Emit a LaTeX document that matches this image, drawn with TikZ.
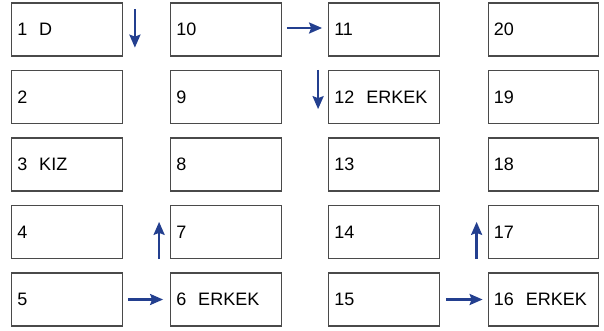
\documentclass[tikz,border=0pt]{standalone}
\usepackage{fontspec}
\setmainfont{Liberation Sans}
\usetikzlibrary{arrows.meta}
\definecolor{seatline}{HTML}{4A4A4A}
\definecolor{arrowblue}{HTML}{233F8F}

\begin{document}
\begin{tikzpicture}[
    x=1pt, y=1pt,
    every node/.style={draw=seatline, line width=1.3pt, minimum height=53pt,
      inner sep=5.5pt, text width=99.5pt, align=left,
      font=\fontsize{18}{21}\selectfont},
    move/.style={draw=arrowblue, line width=2.4pt, -{Stealth[length=13pt,width=11pt,inset=2pt]}}
  ]
  \useasboundingbox (0,0) rectangle (604,-330);

  % Sütunlar (yukarıdan aşağıya)
  \foreach \n/\t [count=\r from 0] in {1/1\hspace{12pt}D, 2/2, 3/3\hspace{12pt}KIZ, 4/4, 5/5}
    \node (b\n) at (67,-29.5-67.5*\r) {\t};
  \foreach \n/\t [count=\r from 0] in {10/10, 9/9, 8/8, 7/7, 6/6\hspace{12pt}ERKEK}
    \node (b\n) at (226,-29.5-67.5*\r) {\t};
  \foreach \n/\t [count=\r from 0] in {11/11, 12/12\hspace{12pt}ERKEK, 13/13, 14/14, 15/15}
    \node (b\n) at (384,-29.5-67.5*\r) {\t};
  \foreach \n/\t [count=\r from 0] in {20/20, 19/19, 18/18, 17/17, 16/16\hspace{12pt}ERKEK}
    \node (b\n) at (543.5,-29.5-67.5*\r) {\t};

  % Oklar
  \draw[move] ([xshift=12pt,yshift=-7pt]b1.north east) -- ([xshift=12pt,yshift=9pt]b1.south east);
  \draw[move] ([xshift=5pt,yshift=1.5pt]b10.east) -- ([xshift=-6pt,yshift=1.5pt]b11.west);
  \draw[move] ([xshift=-10pt]b12.north west) -- ([xshift=-10pt,yshift=15pt]b12.south west);
  \draw[move] ([xshift=5pt]b5.east) -- ([xshift=-7pt]b6.west);
  \draw[move] ([xshift=-11pt]b7.south west) -- ([xshift=-11pt,yshift=-17pt]b7.north west);
  \draw[move] ([xshift=6pt]b15.east) -- ([xshift=-5pt]b16.west);
  \draw[move] ([xshift=-11pt]b17.south west) -- ([xshift=-11pt,yshift=-17pt]b17.north west);
\end{tikzpicture}
\end{document}
